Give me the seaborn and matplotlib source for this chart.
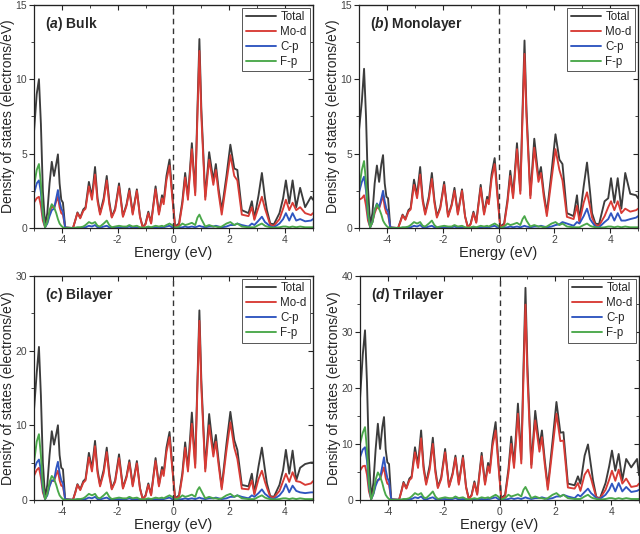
import matplotlib
matplotlib.use("Agg")
import matplotlib.pyplot as plt
from matplotlib.lines import Line2D
from matplotlib.ticker import MultipleLocator
import seaborn as sns
import pandas as pd

sns.set_style("ticks")
plt.rcParams["font.family"] = ["Liberation Sans", "DejaVu Sans"]
plt.rcParams["mathtext.fontset"] = "custom"
plt.rcParams["mathtext.bfit"] = "Liberation Sans:italic:bold"
plt.rcParams["axes.unicode_minus"] = False

# energy grid (eV), shared by every curve
energy = [-5.00, -4.90, -4.82, -4.75, -4.68, -4.60, -4.52, -4.44, -4.36, -4.28,
          -4.20, -4.14, -4.08, -4.02, -3.96, -3.88, -3.60, -3.52, -3.44, -3.34,
          -3.23, -3.15, -3.03, -2.92, -2.81, -2.72, -2.63, -2.50, -2.39, -2.30,
          -2.21, -2.09, -1.95, -1.81, -1.68, -1.58, -1.46, -1.31, -1.20, -1.10,
          -1.00, -0.90, -0.80, -0.64, -0.52, -0.41, -0.35, -0.25, -0.14, -0.05,
          0.06, 0.20, 0.32, 0.42, 0.52, 0.66, 0.78, 0.86, 0.93, 1.00,
          1.14, 1.28, 1.43, 1.52, 1.62, 1.73, 1.90, 2.04, 2.18, 2.29,
          2.45, 2.69, 2.81, 2.90, 3.05, 3.17, 3.28, 3.35, 3.47, 3.60,
          3.80, 3.93, 4.03, 4.15, 4.27, 4.40, 4.54, 4.72, 4.93, 5.00]

# (a) Bulk
bulk_total = [6.4, 9.0, 10.0, 7.0, 2.5, 0.2, 1.0, 3.0, 4.45, 3.5,
              4.3, 4.95, 3.0, 1.9, 1.7, 0.05, 0.0, 0.5, 1.05, 0.7,
              1.25, 1.4, 3.1, 2.1, 4.1, 2.0, 1.0, 2.0, 3.5, 1.8,
              0.75, 1.3, 3.0, 0.8, 1.6, 2.65, 1.0, 2.6, 0.8, 0.05,
              0.3, 1.1, 0.35, 2.8, 1.0, 2.2, 1.8, 3.5, 4.6, 2.5,
              0.1, 0.3, 1.8, 3.7, 2.1, 5.7, 2.4, 8.0, 12.7, 8.0,
              2.1, 5.1, 3.2, 4.3, 2.6, 1.2, 3.5, 5.6, 4.0, 3.9,
              1.2, 1.0, 1.8, 0.65, 2.2, 3.7, 2.0, 1.2, 0.3, 0.25,
              1.0, 2.0, 3.2, 1.65, 3.2, 1.4, 2.7, 1.4, 2.1, 1.9]
bulk_mod = [1.7, 2.0, 2.1, 1.5, 0.5, 0.05, 0.4, 1.0, 1.5, 1.3,
            1.8, 2.1, 1.4, 1.0, 0.9, 0.02, 0.0, 0.5, 1.0, 0.65,
            1.15, 1.3, 2.8, 1.9, 3.6, 1.8, 0.9, 1.8, 3.2, 1.6,
            0.7, 1.2, 2.8, 0.75, 1.5, 2.5, 0.9, 2.5, 0.75, 0.03,
            0.25, 1.0, 0.3, 2.6, 0.9, 2.0, 1.6, 3.2, 4.2, 2.2,
            0.05, 0.2, 1.6, 3.4, 1.9, 5.3, 2.2, 7.5, 11.9, 7.5,
            1.9, 4.6, 2.9, 3.9, 2.3, 0.9, 3.1, 4.9, 3.5, 3.2,
            0.9, 0.8, 1.4, 0.55, 1.4, 2.1, 1.3, 0.9, 0.2, 0.15,
            0.6, 1.3, 1.9, 1.2, 1.7, 1.2, 1.4, 1.0, 0.87, 1.0]
bulk_cp = [2.3, 3.0, 3.2, 2.4, 0.8, 0.05, 0.3, 0.8, 1.2, 1.3,
           2.0, 2.55, 1.8, 1.3, 1.1, 0.02, 0.0, 0.0, 0.02, 0.02,
           0.05, 0.05, 0.15, 0.1, 0.2, 0.05, 0.02, 0.1, 0.15, 0.05,
           0.02, 0.05, 0.05, 0.02, 0.05, 0.1, 0.02, 0.05, 0.02, 0.0,
           0.0, 0.02, 0.02, 0.05, 0.02, 0.05, 0.05, 0.1, 0.15, 0.05,
           0.0, 0.02, 0.05, 0.1, 0.05, 0.1, 0.05, 0.1, 0.15, 0.1,
           0.05, 0.1, 0.1, 0.15, 0.1, 0.05, 0.1, 0.2, 0.2, 0.3,
           0.2, 0.1, 0.3, 0.2, 0.5, 0.76, 0.4, 0.3, 0.1, 0.05,
           0.3, 0.6, 1.0, 0.5, 1.0, 0.5, 0.6, 0.45, 0.5, 0.6]
bulk_fp = [2.8, 3.9, 4.3, 3.0, 1.0, 0.05, 0.4, 1.2, 1.6, 1.4,
           1.0, 0.6, 0.3, 0.15, 0.05, 0.0, 0.0, 0.02, 0.05, 0.05,
           0.1, 0.2, 0.4, 0.3, 0.4, 0.15, 0.1, 0.3, 0.5, 0.2,
           0.05, 0.1, 0.15, 0.1, 0.1, 0.2, 0.1, 0.15, 0.05, 0.02,
           0.05, 0.1, 0.05, 0.15, 0.1, 0.15, 0.1, 0.2, 0.3, 0.2,
           0.02, 0.1, 0.3, 0.2, 0.25, 0.35, 0.2, 0.7, 0.9, 0.6,
           0.1, 0.2, 0.1, 0.1, 0.05, 0.1, 0.3, 0.4, 0.2, 0.3,
           0.1, 0.05, 0.05, 0.05, 0.2, 0.3, 0.15, 0.1, 0.05, 0.02,
           0.05, 0.1, 0.1, 0.05, 0.1, 0.05, 0.1, 0.05, 0.05, 0.05]

# (b) Monolayer
mono_total = [6.6, 8.5, 10.7, 7.5, 2.7, 0.2, 1.0, 3.0, 4.2, 3.1,
              4.3, 4.9, 3.0, 2.1, 2.0, 0.05, 0.0, 0.45, 0.9, 0.6,
              1.2, 1.35, 3.25, 2.2, 4.1, 2.0, 1.0, 2.1, 3.7, 1.9,
              0.8, 1.4, 3.1, 0.8, 1.6, 2.7, 1.0, 2.6, 0.8, 0.05,
              0.3, 1.1, 0.4, 2.9, 1.0, 2.1, 1.8, 3.6, 4.7, 2.6,
              0.1, 0.3, 1.9, 3.85, 2.2, 5.7, 2.5, 8.0, 12.6, 8.0,
              2.2, 6.0, 3.4, 4.1, 2.4, 1.0, 3.8, 6.3, 4.6, 4.3,
              1.0, 0.8, 2.2, 0.5, 2.8, 4.4, 2.4, 1.0, 0.3, 0.25,
              1.8, 2.0, 3.35, 1.7, 3.35, 1.3, 3.7, 2.3, 2.2, 2.0]
mono_mod = [1.9, 2.0, 2.2, 1.5, 0.5, 0.05, 0.4, 1.0, 1.4, 1.3,
            1.8, 2.2, 1.4, 1.0, 0.9, 0.02, 0.0, 0.4, 0.85, 0.55,
            1.1, 1.25, 2.9, 2.0, 3.6, 1.8, 0.9, 1.9, 3.3, 1.7,
            0.7, 1.3, 2.9, 0.75, 1.5, 2.5, 0.9, 2.5, 0.75, 0.03,
            0.25, 1.0, 0.35, 2.7, 0.9, 1.9, 1.6, 3.3, 4.3, 2.3,
            0.05, 0.2, 1.7, 3.5, 2.0, 5.3, 2.3, 7.5, 11.7, 7.5,
            2.0, 5.4, 3.1, 3.7, 2.1, 0.8, 3.3, 5.3, 3.9, 3.2,
            0.75, 0.6, 1.5, 0.4, 1.7, 2.4, 1.4, 0.7, 0.2, 0.15,
            0.8, 1.4, 1.8, 1.2, 1.8, 1.0, 1.3, 1.1, 1.2, 1.3]
mono_cp = [2.4, 3.1, 3.45, 2.5, 0.8, 0.05, 0.4, 1.2, 1.65, 1.4,
           2.0, 2.5, 1.8, 1.3, 1.1, 0.02, 0.0, 0.0, 0.02, 0.02,
           0.05, 0.05, 0.15, 0.1, 0.2, 0.05, 0.02, 0.1, 0.15, 0.05,
           0.02, 0.05, 0.05, 0.02, 0.05, 0.1, 0.02, 0.05, 0.02, 0.0,
           0.0, 0.02, 0.02, 0.05, 0.02, 0.05, 0.05, 0.1, 0.15, 0.05,
           0.0, 0.02, 0.05, 0.1, 0.05, 0.1, 0.05, 0.1, 0.15, 0.1,
           0.05, 0.1, 0.1, 0.15, 0.1, 0.05, 0.1, 0.2, 0.25, 0.4,
           0.3, 0.15, 0.4, 0.3, 0.8, 1.3, 0.6, 0.4, 0.1, 0.05,
           0.4, 0.6, 1.0, 0.5, 1.0, 0.5, 0.5, 0.6, 0.7, 0.8]
mono_fp = [2.6, 3.9, 4.5, 3.1, 1.0, 0.05, 0.4, 1.2, 1.6, 1.3,
           0.9, 0.5, 0.3, 0.15, 0.05, 0.0, 0.0, 0.02, 0.05, 0.05,
           0.1, 0.2, 0.4, 0.3, 0.4, 0.15, 0.1, 0.3, 0.5, 0.2,
           0.05, 0.1, 0.15, 0.1, 0.1, 0.2, 0.1, 0.15, 0.05, 0.02,
           0.05, 0.1, 0.05, 0.15, 0.1, 0.15, 0.1, 0.2, 0.3, 0.2,
           0.02, 0.1, 0.3, 0.2, 0.25, 0.35, 0.2, 0.6, 0.8, 0.5,
           0.1, 0.2, 0.1, 0.1, 0.05, 0.1, 0.3, 0.4, 0.2, 0.3,
           0.1, 0.05, 0.05, 0.05, 0.2, 0.3, 0.15, 0.1, 0.05, 0.02,
           0.05, 0.1, 0.1, 0.05, 0.1, 0.05, 0.1, 0.05, 0.05, 0.05]

# (c) Bilayer
bi_total = [11.9, 17.0, 20.5, 14.0, 5.0, 0.3, 2.0, 6.0, 9.2, 7.4,
            8.8, 10.0, 6.0, 4.3, 4.1, 0.1, 0.0, 1.0, 2.1, 1.4,
            2.5, 2.8, 6.3, 4.2, 7.9, 4.0, 2.0, 4.0, 7.0, 3.6,
            1.5, 2.6, 6.1, 1.6, 3.2, 5.3, 2.0, 5.2, 1.6, 0.1,
            0.6, 2.2, 0.7, 5.6, 2.0, 4.4, 3.6, 7.0, 9.1, 5.0,
            0.2, 0.6, 3.6, 7.7, 4.2, 11.7, 4.8, 16.0, 25.4, 16.0,
            4.2, 11.5, 6.5, 8.7, 5.2, 1.7, 7.5, 11.8, 8.0, 6.7,
            2.0, 1.8, 3.5, 0.9, 4.5, 7.0, 4.0, 2.2, 0.5, 0.4,
            2.0, 4.0, 6.7, 3.5, 6.6, 2.6, 4.3, 4.8, 5.0, 5.0]
bi_mod = [3.2, 4.0, 4.3, 3.0, 1.0, 0.1, 0.8, 2.0, 2.6, 2.5,
          3.4, 3.9, 2.6, 1.9, 1.8, 0.05, 0.0, 0.9, 2.0, 1.3,
          2.3, 2.6, 5.7, 3.8, 7.2, 3.6, 1.8, 3.6, 6.4, 3.2,
          1.4, 2.4, 5.6, 1.5, 3.0, 5.0, 1.8, 4.9, 1.5, 0.05,
          0.5, 2.0, 0.6, 5.2, 1.8, 4.0, 3.2, 6.4, 8.4, 4.5,
          0.1, 0.4, 3.2, 7.0, 3.8, 10.2, 4.3, 15.0, 24.0, 15.0,
          3.8, 10.0, 5.8, 7.8, 4.6, 1.4, 6.6, 10.4, 7.0, 5.5,
          1.5, 1.4, 2.6, 0.7, 2.8, 3.9, 2.4, 1.6, 0.4, 0.3,
          1.2, 2.5, 3.5, 2.4, 3.7, 2.5, 2.4, 2.0, 2.2, 2.5]
bi_cp = [4.0, 5.0, 5.4, 4.0, 1.4, 0.1, 0.6, 1.8, 2.6, 2.6,
         4.2, 5.1, 3.6, 2.6, 2.2, 0.05, 0.0, 0.0, 0.05, 0.05,
         0.1, 0.1, 0.3, 0.2, 0.4, 0.1, 0.05, 0.2, 0.3, 0.1,
         0.05, 0.1, 0.1, 0.05, 0.1, 0.2, 0.05, 0.1, 0.05, 0.0,
         0.0, 0.05, 0.05, 0.1, 0.05, 0.1, 0.1, 0.2, 0.3, 0.1,
         0.0, 0.05, 0.1, 0.2, 0.1, 0.2, 0.1, 0.2, 0.3, 0.2,
         0.1, 0.2, 0.2, 0.3, 0.2, 0.1, 0.2, 0.4, 0.4, 0.6,
         0.4, 0.2, 0.6, 0.4, 0.9, 1.4, 0.8, 0.6, 0.2, 0.1,
         0.6, 1.2, 2.1, 1.0, 1.9, 1.2, 1.0, 0.9, 1.0, 1.0]
bi_fp = [4.9, 7.8, 8.8, 6.0, 2.0, 0.1, 0.8, 2.4, 3.2, 2.8,
         2.0, 1.2, 0.6, 0.3, 0.1, 0.0, 0.0, 0.05, 0.1, 0.1,
         0.2, 0.4, 0.8, 0.6, 0.8, 0.3, 0.2, 0.6, 1.0, 0.4,
         0.1, 0.2, 0.3, 0.2, 0.2, 0.4, 0.2, 0.3, 0.1, 0.05,
         0.1, 0.2, 0.1, 0.3, 0.2, 0.3, 0.2, 0.4, 0.6, 0.4,
         0.05, 0.2, 0.6, 0.4, 0.5, 0.7, 0.4, 1.3, 1.7, 1.2,
         0.2, 0.4, 0.2, 0.2, 0.1, 0.2, 0.6, 0.8, 0.4, 0.6,
         0.2, 0.1, 0.1, 0.1, 0.4, 0.6, 0.3, 0.2, 0.1, 0.05,
         0.1, 0.2, 0.2, 0.1, 0.2, 0.1, 0.2, 0.1, 0.1, 0.1]

# (d) Trilayer
tri_total = [18.0, 26.0, 30.3, 21.0, 7.5, 0.4, 3.0, 9.0, 13.6, 9.1,
             13.0, 14.8, 9.0, 6.7, 6.4, 0.1, 0.0, 1.5, 3.2, 2.1,
             3.8, 4.2, 9.4, 6.3, 12.4, 6.0, 3.0, 6.2, 11.1, 5.5,
             2.3, 4.0, 9.1, 2.4, 4.8, 7.9, 3.0, 7.9, 2.4, 0.15,
             0.9, 3.3, 1.1, 8.4, 3.0, 6.6, 5.4, 10.5, 13.9, 7.5,
             0.3, 0.9, 5.5, 11.3, 6.3, 17.2, 7.2, 24.0, 37.9, 24.0,
             6.3, 15.9, 9.6, 12.4, 7.2, 2.3, 10.5, 17.5, 12.0, 12.1,
             2.9, 2.6, 4.2, 2.9, 7.9, 9.9, 6.0, 3.5, 0.5, 0.3,
             3.0, 6.0, 8.8, 5.2, 8.2, 3.5, 7.3, 5.8, 7.3, 4.4]
tri_mod = [5.2, 6.0, 6.1, 4.5, 1.5, 0.1, 1.2, 3.0, 3.5, 3.7,
           5.0, 5.8, 3.9, 2.9, 2.7, 0.05, 0.0, 1.4, 3.0, 2.0,
           3.5, 3.9, 8.5, 5.7, 11.0, 5.4, 2.7, 5.5, 10.0, 4.9,
           2.1, 3.7, 8.5, 2.3, 4.5, 7.5, 2.7, 7.5, 2.2, 0.1,
           0.75, 3.0, 0.9, 7.8, 2.7, 6.0, 4.8, 9.6, 12.4, 6.8,
           0.15, 0.6, 4.8, 10.0, 5.7, 15.4, 6.5, 22.0, 34.9, 22.0,
           5.7, 14.2, 8.6, 11.2, 6.4, 1.8, 9.2, 15.4, 10.5, 10.6,
           2.2, 2.0, 3.0, 1.6, 4.5, 5.4, 3.8, 2.5, 0.4, 0.25,
           1.8, 3.6, 5.2, 3.4, 5.4, 2.9, 3.8, 2.3, 2.5, 2.9]
tri_cp = [7.6, 9.0, 9.4, 7.0, 2.4, 0.1, 1.0, 2.5, 3.5, 3.9,
          6.0, 7.6, 5.4, 3.9, 3.3, 0.05, 0.0, 0.0, 0.05, 0.05,
          0.15, 0.15, 0.45, 0.3, 0.6, 0.15, 0.05, 0.3, 0.45, 0.15,
          0.05, 0.15, 0.15, 0.05, 0.15, 0.3, 0.05, 0.15, 0.05, 0.0,
          0.0, 0.05, 0.05, 0.15, 0.05, 0.15, 0.15, 0.3, 0.45, 0.15,
          0.0, 0.05, 0.15, 0.3, 0.15, 0.3, 0.15, 0.3, 0.45, 0.3,
          0.15, 0.3, 0.3, 0.45, 0.3, 0.15, 0.3, 0.6, 0.6, 0.9,
          0.6, 0.3, 0.9, 0.6, 1.4, 2.0, 1.2, 0.9, 0.3, 0.15,
          0.9, 1.8, 2.9, 1.5, 3.0, 1.5, 2.3, 1.4, 1.6, 1.8]
tri_fp = [10.0, 12.0, 13.0, 9.0, 3.0, 0.1, 1.2, 3.6, 4.9, 4.2,
          3.0, 1.8, 0.9, 0.45, 0.15, 0.0, 0.0, 0.05, 0.15, 0.15,
          0.3, 0.6, 1.2, 0.9, 1.2, 0.45, 0.3, 0.9, 1.5, 0.6,
          0.15, 0.3, 0.45, 0.3, 0.3, 0.6, 0.3, 0.45, 0.15, 0.05,
          0.15, 0.3, 0.15, 0.45, 0.3, 0.45, 0.3, 0.6, 0.9, 0.6,
          0.05, 0.3, 0.9, 0.6, 0.75, 1.0, 0.6, 1.8, 2.3, 1.6,
          0.3, 0.6, 0.3, 0.3, 0.15, 0.3, 0.9, 1.2, 0.6, 0.9,
          0.3, 0.15, 0.15, 0.15, 0.6, 0.9, 0.45, 0.3, 0.15, 0.05,
          0.15, 0.3, 0.3, 0.15, 0.3, 0.15, 0.3, 0.15, 0.15, 0.15]

orbitals = ["Total", "Mo-d", "C-p", "F-p"]
colors = {"Total": "#3c3c3c", "Mo-d": "#d83b35", "C-p": "#2f55c0", "F-p": "#4aa84a"}

panels = [
    ("a", "Bulk", [bulk_total, bulk_mod, bulk_cp, bulk_fp], 15, 5, [0.053, 0.573, 0.436, 0.418]),
    ("b", "Monolayer", [mono_total, mono_mod, mono_cp, mono_fp], 15, 5, [0.561, 0.573, 0.436, 0.418]),
    ("c", "Bilayer", [bi_total, bi_mod, bi_cp, bi_fp], 30, 10, [0.053, 0.064, 0.436, 0.419]),
    ("d", "Trilayer", [tri_total, tri_mod, tri_cp, tri_fp], 40, 10, [0.5625, 0.064, 0.436, 0.419]),
]

fig = plt.figure(figsize=(6.4, 5.34), dpi=100)

for letter, name, series, ymax, ystep, pos in panels:
    ax = fig.add_axes(pos)
    df = pd.DataFrame({
        "Energy": energy * 4,
        "DOS": sum(series, []),
        "Orbital": [o for o in orbitals for _ in energy],
    })
    sns.lineplot(data=df, x="Energy", y="DOS", hue="Orbital", hue_order=orbitals,
                 palette=colors, estimator=None, linewidth=1.35, legend=False, ax=ax)
    ax.axvline(0, color="#333333", linestyle=(0, (4, 3)), linewidth=1.0)

    ax.set_xlim(-5, 5)
    ax.set_ylim(0, ymax)
    ax.xaxis.set_major_locator(MultipleLocator(2))
    ax.xaxis.set_minor_locator(MultipleLocator(1))
    ax.yaxis.set_major_locator(MultipleLocator(ystep))
    ax.yaxis.set_minor_locator(MultipleLocator(ystep / 2))
    ax.tick_params(which="major", direction="out", length=3.5, width=0.8,
                   labelsize=7.5, labelcolor="#444444", pad=1.5)
    ax.tick_params(which="minor", direction="out", length=2, width=0.6)

    # mirrored inward ticks on top and right
    top = ax.secondary_xaxis("top")
    top.xaxis.set_major_locator(MultipleLocator(2))
    top.xaxis.set_minor_locator(MultipleLocator(1))
    top.tick_params(which="major", direction="in", length=3.5, width=0.8, labeltop=False)
    top.tick_params(which="minor", direction="in", length=2, width=0.6)
    right = ax.secondary_yaxis("right")
    right.yaxis.set_major_locator(MultipleLocator(ystep))
    right.yaxis.set_minor_locator(MultipleLocator(ystep / 2))
    right.tick_params(which="major", direction="in", length=3.5, width=0.8, labelright=False)
    right.tick_params(which="minor", direction="in", length=2, width=0.6)

    for sp in ax.spines.values():
        sp.set_linewidth(0.9)
        sp.set_color("#222222")

    ax.set_xlabel("Energy (eV)", fontsize=10.5, labelpad=1)
    ax.set_ylabel("Density of states (electrons/eV)", fontsize=10, labelpad=0.5)

    ax.text(0.04, 0.915, rf"($\mathbfit{{{letter}}}$) {name}", transform=ax.transAxes,
            fontsize=10, fontweight="bold", va="center", ha="left")

    handles = [Line2D([], [], color=colors[o], linewidth=1.35) for o in orbitals]
    leg = ax.legend(handles, orbitals, loc="upper right", fontsize=8.3, frameon=True,
                    fancybox=False, framealpha=1, edgecolor="#555555",
                    handlelength=2.6, handletextpad=0.4, labelspacing=0.25,
                    borderpad=0.3, borderaxespad=0.25)
    leg.get_frame().set_linewidth(0.7)

fig.savefig("out.png", dpi=100)
